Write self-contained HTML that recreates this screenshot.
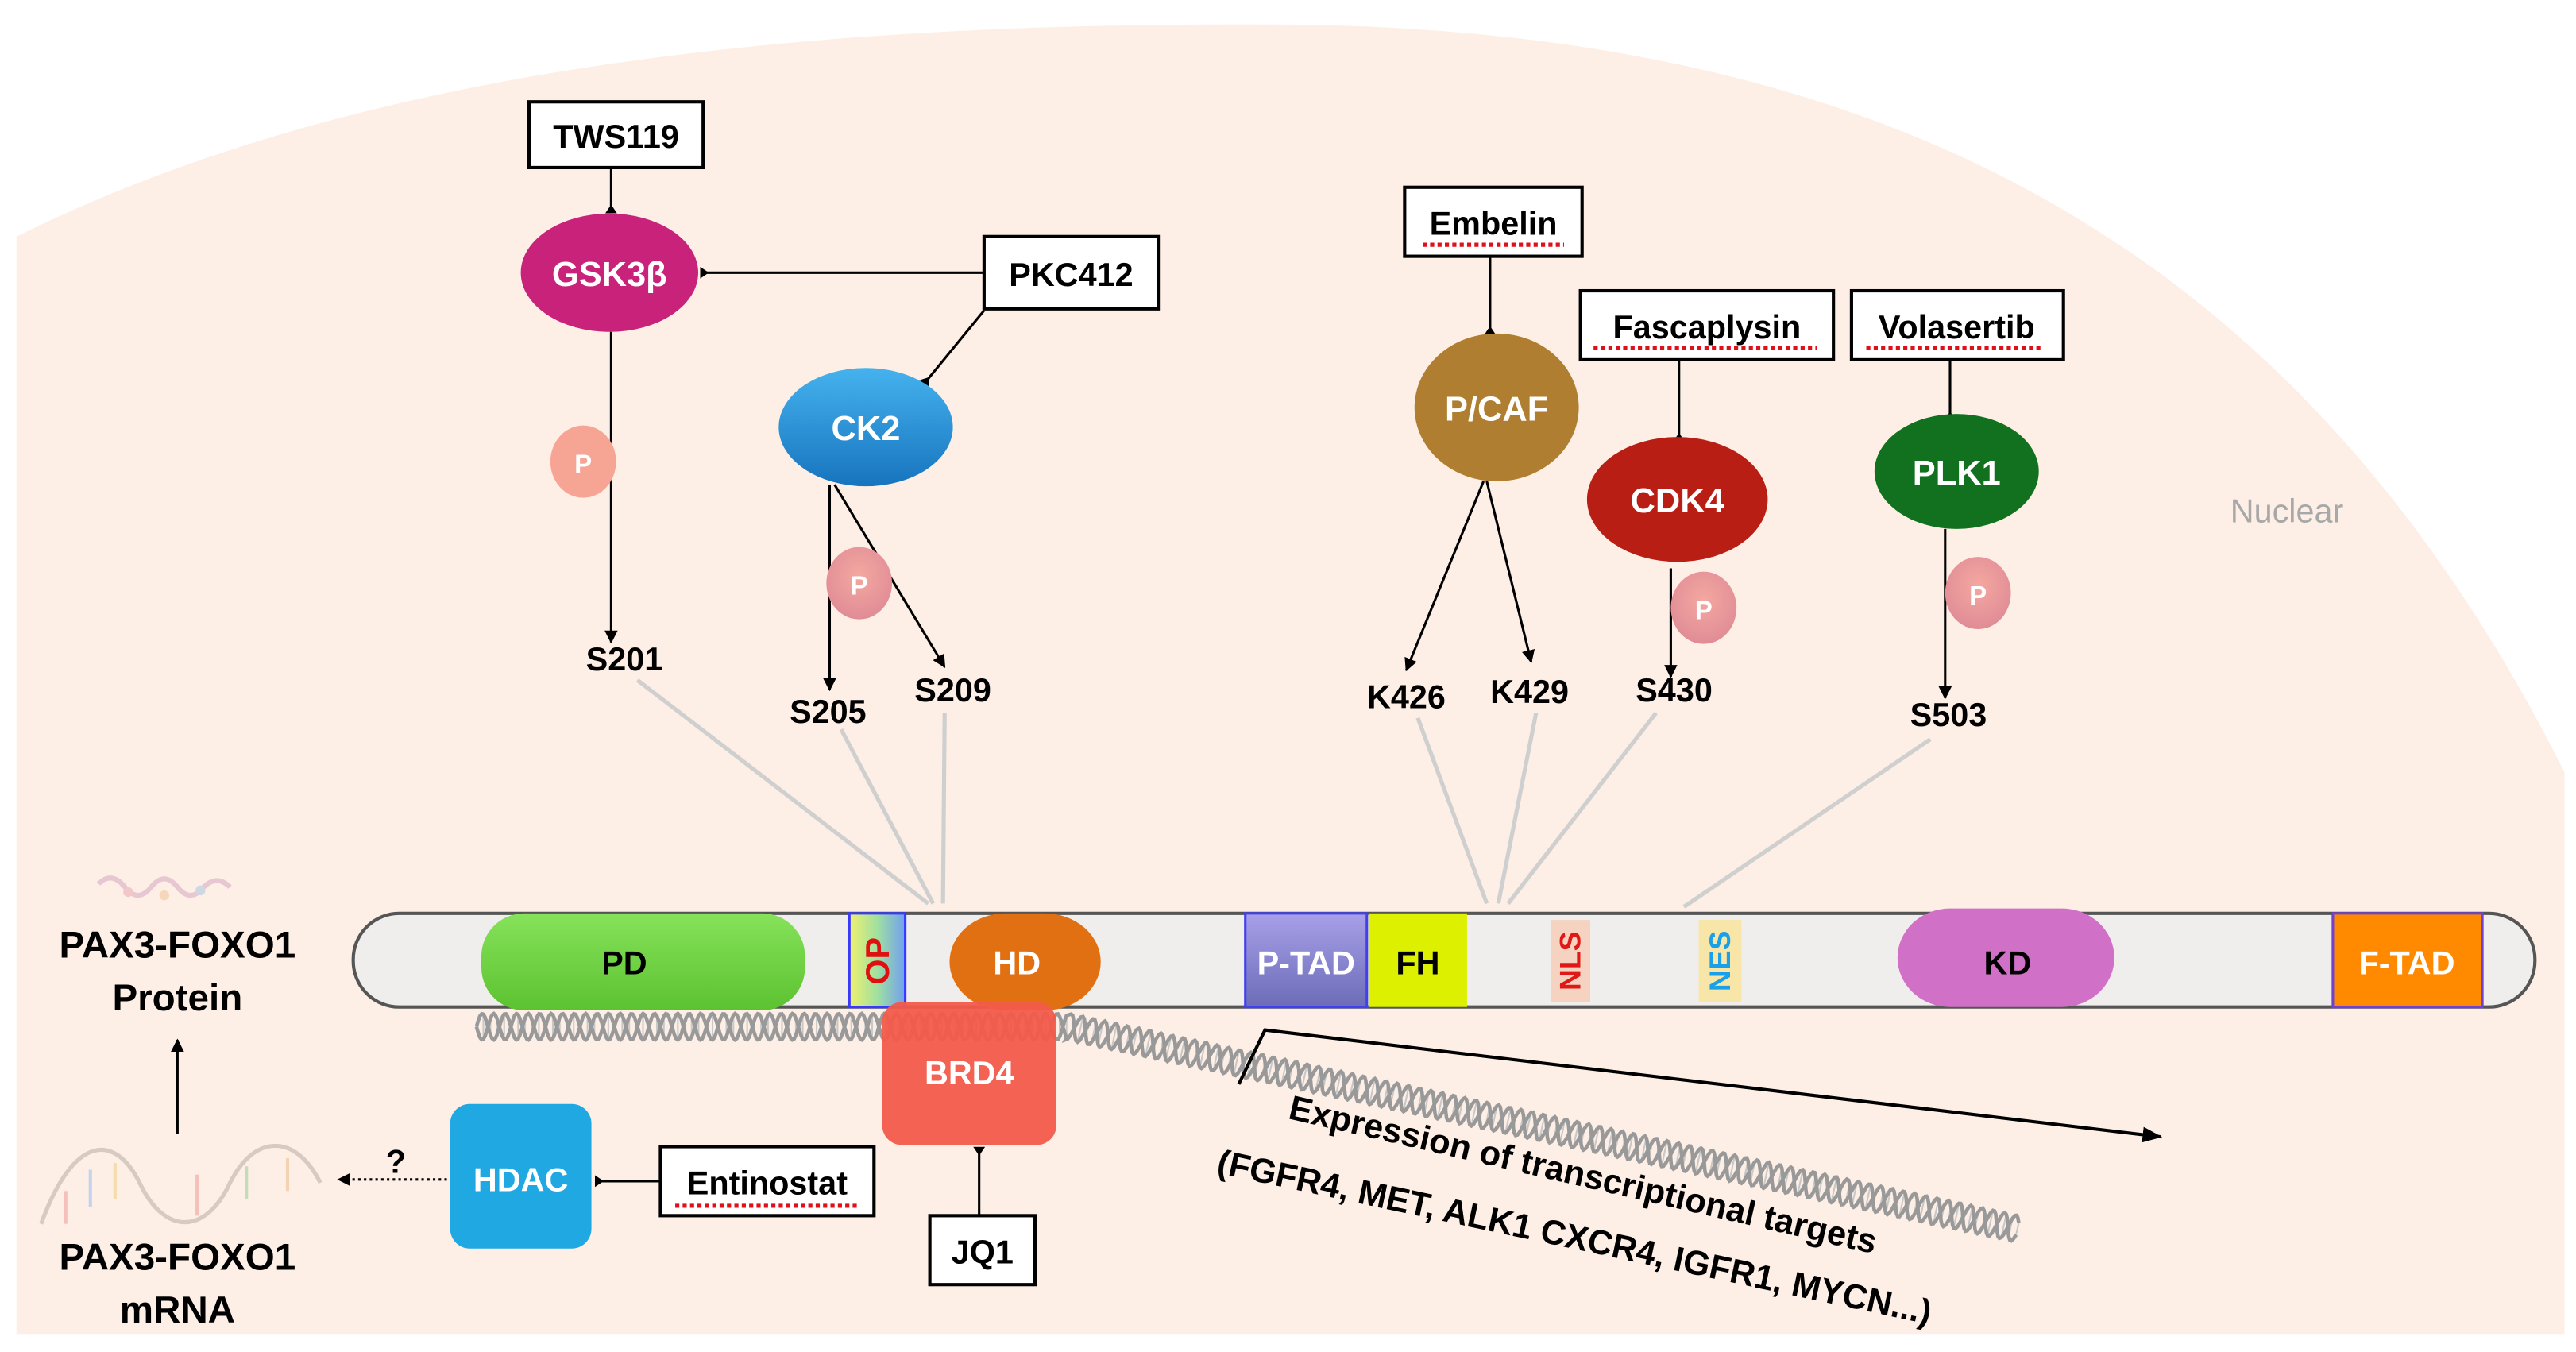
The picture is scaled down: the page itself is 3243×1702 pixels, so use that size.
<!DOCTYPE html>
<html><head><meta charset="utf-8"><style>
html,body{margin:0;padding:0;background:#fff;}
svg{display:block;}
text{font-family:"Liberation Sans",sans-serif;font-weight:bold;}
</style></head><body>
<svg id="s" width="3243" height="1702" viewBox="0 0 1568 823" preserveAspectRatio="none" xmlns="http://www.w3.org/2000/svg">
<defs>
<marker id="ar" viewBox="0 0 10 10" refX="9" refY="5" markerWidth="8" markerHeight="8" orient="auto" markerUnits="userSpaceOnUse"><path d="M0,0 L10,5 L0,10 z" fill="#000"/></marker>
<marker id="ar2" viewBox="0 0 10 10" refX="9" refY="5" markerWidth="12" markerHeight="12" orient="auto" markerUnits="userSpaceOnUse"><path d="M0,1 L10,5 L0,9 z" fill="#000"/></marker>
<marker id="tee" viewBox="0 0 10 10" refX="9" refY="5" markerWidth="9" markerHeight="9" orient="auto" markerUnits="userSpaceOnUse"><path d="M4,5 L10,1 L10,9 z" fill="#000"/></marker>
<linearGradient id="ck2" x1="0" y1="0" x2="0" y2="1"><stop offset="0" stop-color="#45b2ee"/><stop offset="1" stop-color="#1774be"/></linearGradient>
<linearGradient id="pd" x1="0" y1="0" x2="0" y2="1"><stop offset="0" stop-color="#86e25a"/><stop offset="1" stop-color="#5cc230"/></linearGradient>
<linearGradient id="op" x1="0" y1="0" x2="1" y2="0"><stop offset="0" stop-color="#f0f070"/><stop offset="0.5" stop-color="#a0e0a0"/><stop offset="1" stop-color="#70a0f0"/></linearGradient>
<linearGradient id="ptad" x1="0" y1="0" x2="0" y2="1"><stop offset="0" stop-color="#a8a0e8"/><stop offset="1" stop-color="#6c6cb8"/></linearGradient>
<radialGradient id="pp" cx="0.5" cy="0.4" r="0.6"><stop offset="0" stop-color="#f4a8a0"/><stop offset="1" stop-color="#e08c96"/></radialGradient>
</defs>
<path d="M10,812 L10,144 C200,50 450,12 790,15 C1150,20 1400,150 1561,470 L1561,812 Z" fill="#fdefe6"/>

<rect x="322" y="62" width="106" height="40" fill="#fff" stroke="#000" stroke-width="2"/>
<text x="375" y="90" font-size="20" text-anchor="middle">TWS119</text>
<line x1="372" y1="102" x2="372" y2="129" stroke="#000" stroke-width="1.5" marker-end="url(#tee)"/>
<ellipse cx="371" cy="166" rx="54" ry="36" fill="#c8227a"/>
<text x="371" y="174" font-size="21" fill="#fff" text-anchor="middle">GSK3β</text>
<rect x="599" y="144" width="106" height="44" fill="#fff" stroke="#000" stroke-width="2"/>
<text x="652" y="174" font-size="20" text-anchor="middle">PKC412</text>
<line x1="599" y1="166" x2="427" y2="166" stroke="#000" stroke-width="1.5" marker-end="url(#tee)"/>
<line x1="599" y1="189" x2="563" y2="233" stroke="#000" stroke-width="1.5" marker-end="url(#tee)"/>
<ellipse cx="527" cy="260" rx="53" ry="36" fill="url(#ck2)"/>
<text x="527" y="268" font-size="21" fill="#fff" text-anchor="middle">CK2</text>
<line x1="372" y1="202" x2="372" y2="391" stroke="#000" stroke-width="1.5" marker-end="url(#ar)"/>
<ellipse cx="355" cy="281" rx="20" ry="22" fill="#f6a494"/>
<text x="355" y="288" font-size="16" fill="#fff" text-anchor="middle">P</text>
<line x1="505" y1="295" x2="505" y2="420" stroke="#000" stroke-width="1.5" marker-end="url(#ar)"/>
<line x1="508" y1="295" x2="575" y2="406" stroke="#000" stroke-width="1.5" marker-end="url(#ar)"/>
<ellipse cx="523" cy="355" rx="20" ry="22" fill="url(#pp)"/>
<text x="523" y="362" font-size="16" fill="#fff" text-anchor="middle">P</text>
<text x="380" y="408" font-size="20" text-anchor="middle">S201</text>
<text x="504" y="440" font-size="20" text-anchor="middle">S205</text>
<text x="580" y="427" font-size="20" text-anchor="middle">S209</text>

<rect x="855" y="114" width="108" height="42" fill="#fff" stroke="#000" stroke-width="2"/>
<text x="909" y="143" font-size="20" text-anchor="middle">Embelin</text>
<line x1="866" y1="149" x2="952" y2="149" stroke="#e0101a" stroke-width="2.5" stroke-dasharray="2.5 2"/>
<line x1="907" y1="156" x2="907" y2="203" stroke="#000" stroke-width="1.5" marker-end="url(#tee)"/>
<ellipse cx="911" cy="248" rx="50" ry="45" fill="#b07e30"/>
<text x="911" y="256" font-size="21" fill="#fff" text-anchor="middle">P/CAF</text>
<line x1="903" y1="293" x2="856" y2="408" stroke="#000" stroke-width="1.5" marker-end="url(#ar)"/>
<line x1="905" y1="293" x2="932" y2="403" stroke="#000" stroke-width="1.5" marker-end="url(#ar)"/>
<text x="856" y="431" font-size="20" text-anchor="middle">K426</text>
<text x="931" y="428" font-size="20" text-anchor="middle">K429</text>

<rect x="962" y="177" width="154" height="42" fill="#fff" stroke="#000" stroke-width="2"/>
<text x="1039" y="206" font-size="20" text-anchor="middle">Fascaplysin</text>
<line x1="970" y1="212" x2="1106" y2="212" stroke="#e0101a" stroke-width="2.5" stroke-dasharray="2.5 2"/>
<line x1="1022" y1="219" x2="1022" y2="268" stroke="#000" stroke-width="1.5" marker-end="url(#tee)"/>
<ellipse cx="1021" cy="304" rx="55" ry="38" fill="#b81e14"/>
<text x="1021" y="312" font-size="21" fill="#fff" text-anchor="middle">CDK4</text>
<line x1="1017" y1="346" x2="1017" y2="412" stroke="#000" stroke-width="1.5" marker-end="url(#ar)"/>
<ellipse cx="1037" cy="370" rx="20" ry="22" fill="url(#pp)"/>
<text x="1037" y="377" font-size="16" fill="#fff" text-anchor="middle">P</text>
<text x="1019" y="427" font-size="20" text-anchor="middle">S430</text>

<rect x="1127" y="177" width="129" height="42" fill="#fff" stroke="#000" stroke-width="2"/>
<text x="1191" y="206" font-size="20" text-anchor="middle">Volasertib</text>
<line x1="1136" y1="212" x2="1244" y2="212" stroke="#e0101a" stroke-width="2.5" stroke-dasharray="2.5 2"/>
<line x1="1187" y1="219" x2="1187" y2="255" stroke="#000" stroke-width="1.5" marker-end="url(#tee)"/>
<ellipse cx="1191" cy="287" rx="50" ry="35" fill="#12711f"/>
<text x="1191" y="295" font-size="21" fill="#fff" text-anchor="middle">PLK1</text>
<line x1="1184" y1="322" x2="1184" y2="425" stroke="#000" stroke-width="1.5" marker-end="url(#ar)"/>
<ellipse cx="1204" cy="361" rx="20" ry="22" fill="url(#pp)"/>
<text x="1204" y="368" font-size="16" fill="#fff" text-anchor="middle">P</text>
<text x="1186" y="442" font-size="20" text-anchor="middle">S503</text>
<text x="1392" y="318" font-size="20" style="font-weight:normal" fill="#a8a8a8" text-anchor="middle">Nuclear</text>

<g stroke="#cfcfcf" stroke-width="2.5" fill="none">
<line x1="388" y1="414" x2="565" y2="550"/>
<line x1="512" y1="444" x2="568" y2="550"/>
<line x1="575" y1="434" x2="574" y2="550"/>
<line x1="863" y1="437" x2="905" y2="550"/>
<line x1="935" y1="434" x2="912" y2="550"/>
<line x1="1008" y1="434" x2="918" y2="550"/>
<line x1="1175" y1="450" x2="1025" y2="552"/>
</g>

<g id="dna" fill="none" stroke="#999" stroke-width="2"></g>

<rect x="215" y="556" width="1328" height="57" rx="28" fill="#f0eeed" stroke="#555" stroke-width="2"/>
<rect x="293" y="556" width="197" height="59" rx="26" fill="url(#pd)"/>
<text x="380" y="593" font-size="20" text-anchor="middle">PD</text>
<rect x="517" y="556" width="34" height="57" fill="url(#op)" stroke="#3838ff" stroke-width="1.5"/>
<text x="0" y="0" font-size="20" fill="#e01010" text-anchor="middle" transform="translate(541,585) rotate(-90)">OP</text>
<rect x="578" y="556" width="92" height="59" rx="34" fill="#e07012"/>
<text x="619" y="593" font-size="20" fill="#fff" text-anchor="middle">HD</text>
<rect x="758" y="556" width="74" height="57" fill="url(#ptad)" stroke="#4040f0" stroke-width="1.5"/>
<text x="795" y="593" font-size="20" fill="#fff" text-anchor="middle">P-TAD</text>
<rect x="833" y="556" width="60" height="57" fill="#ddf000"/>
<text x="863" y="593" font-size="20" text-anchor="middle">FH</text>
<rect x="944" y="560" width="24" height="50" fill="#f5d3c0"/>
<text x="0" y="0" font-size="18" fill="#e01818" text-anchor="middle" transform="translate(962,585) rotate(-90)">NLS</text>
<rect x="1034" y="560" width="26" height="50" fill="#f8e6a8"/>
<text x="0" y="0" font-size="18" fill="#1aa0e8" text-anchor="middle" transform="translate(1053,585) rotate(-90)">NES</text>
<rect x="1155" y="553" width="132" height="60" rx="32" fill="#d070c6"/>
<text x="1222" y="593" font-size="20" text-anchor="middle">KD</text>
<rect x="1420" y="556" width="91" height="57" fill="#ff8a00" stroke="#7040d0" stroke-width="1.5"/>
<text x="1465" y="593" font-size="20" fill="#fff" text-anchor="middle">F-TAD</text>

<rect x="537" y="610" width="106" height="87" rx="12" fill="#f25a4a" opacity="0.95"/>
<text x="590" y="660" font-size="20" fill="#fff" text-anchor="middle">BRD4</text>
<rect x="566" y="740" width="64" height="42" fill="#fff" stroke="#000" stroke-width="2"/>
<text x="598" y="769" font-size="20" text-anchor="middle">JQ1</text>
<line x1="596" y1="740" x2="596" y2="699" stroke="#000" stroke-width="1.5" marker-end="url(#tee)"/>

<rect x="274" y="672" width="86" height="88" rx="12" fill="#1fa8e2"/>
<text x="317" y="725" font-size="20" fill="#fff" text-anchor="middle">HDAC</text>
<rect x="402" y="698" width="130" height="42" fill="#fff" stroke="#000" stroke-width="2"/>
<text x="467" y="727" font-size="20" text-anchor="middle">Entinostat</text>
<line x1="411" y1="734" x2="522" y2="734" stroke="#e0101a" stroke-width="2.5" stroke-dasharray="2.5 2"/>
<line x1="402" y1="719" x2="363" y2="719" stroke="#000" stroke-width="1.5" marker-end="url(#tee)"/>
<line x1="272" y1="718" x2="206" y2="718" stroke="#000" stroke-width="1.5" stroke-dasharray="1.5 2" marker-end="url(#ar)"/>
<text x="241" y="714" font-size="20" text-anchor="middle">?</text>

<g opacity="0.5">
<path d="M60,538 q8,-8 16,2 q8,10 16,0 q8,-10 16,0 q8,10 16,0 q8,-8 16,0" stroke="#d0a0c0" stroke-width="3" fill="none"/>
<circle cx="78" cy="543" r="3" fill="#e8a0b0"/><circle cx="100" cy="545" r="3" fill="#f0c090"/><circle cx="122" cy="542" r="3" fill="#a0c0e0"/>
</g>
<path d="M25,745 C45,690 70,690 85,720 C100,752 125,752 140,720 C155,690 180,690 195,720" stroke="#ccc0b8" stroke-width="2.5" fill="none" opacity="0.8"/>
<g stroke-width="2" opacity="0.6">
<line x1="40" y1="725" x2="40" y2="745" stroke="#f0a0a0"/><line x1="55" y1="712" x2="55" y2="735" stroke="#a0c0f0"/>
<line x1="70" y1="708" x2="70" y2="730" stroke="#f0d080"/><line x1="120" y1="715" x2="120" y2="740" stroke="#f0a0a0"/>
<line x1="150" y1="710" x2="150" y2="730" stroke="#a0d0a0"/><line x1="175" y1="705" x2="175" y2="725" stroke="#f0c090"/>
</g>
<text x="108" y="583" font-size="23" text-anchor="middle">PAX3-FOXO1</text>
<text x="108" y="615" font-size="23" text-anchor="middle">Protein</text>
<line x1="108" y1="690" x2="108" y2="633" stroke="#000" stroke-width="1.5" marker-end="url(#ar)"/>
<text x="108" y="773" font-size="23" text-anchor="middle">PAX3-FOXO1</text>
<text x="108" y="805" font-size="23" text-anchor="middle">mRNA</text>

<path d="M754,660 L770,627 L1315,692" stroke="#000" stroke-width="2" fill="none" marker-end="url(#ar2)"/>
<text font-size="21" text-anchor="middle" transform="translate(962,722) rotate(13)">Expression of transcriptional targets</text>
<text font-size="21" text-anchor="middle" transform="translate(957,760) rotate(12)">(FGFR4, MET, ALK1 CXCR4, IGFR1, MYCN...)</text>
</svg>
<script>
(function(){
var g=document.getElementById('dna');
function center(t){
  var L1=360, L2=Math.hypot(578,123), L=L1+L2, d=t*L;
  if(d<L1) return [290+d,625,1,0];
  var f=(d-L1)/L2; return [650+578*f,625+123*f,578/L2,123/L2];
}
var N=900, amp=8, per=14, a="",b="",rungs="";
var L=360+Math.hypot(578,123);
for(var i=0;i<=N;i++){
  var t=i/N,c=center(t),d=t*L;
  var nx=-c[3],ny=c[2];
  var s=Math.sin(d/per*2*Math.PI)*amp;
  a+=(i?"L":"M")+(c[0]+nx*s).toFixed(1)+","+(c[1]+ny*s).toFixed(1);
  b+=(i?"L":"M")+(c[0]-nx*s).toFixed(1)+","+(c[1]-ny*s).toFixed(1);
  if(i%4==0){rungs+="M"+(c[0]+nx*s).toFixed(1)+","+(c[1]+ny*s).toFixed(1)+"L"+(c[0]-nx*s).toFixed(1)+","+(c[1]-ny*s).toFixed(1);}
}
var ns="http://www.w3.org/2000/svg";
[[rungs,"#c8c8c8",1],[a,"#999",2.2],[b,"#999",2.2]].forEach(function(p){
  var e=document.createElementNS(ns,"path");e.setAttribute("d",p[0]);e.setAttribute("stroke",p[1]);e.setAttribute("stroke-width",p[2]);e.setAttribute("fill","none");g.appendChild(e);
});
})();
</script>
</body></html>
